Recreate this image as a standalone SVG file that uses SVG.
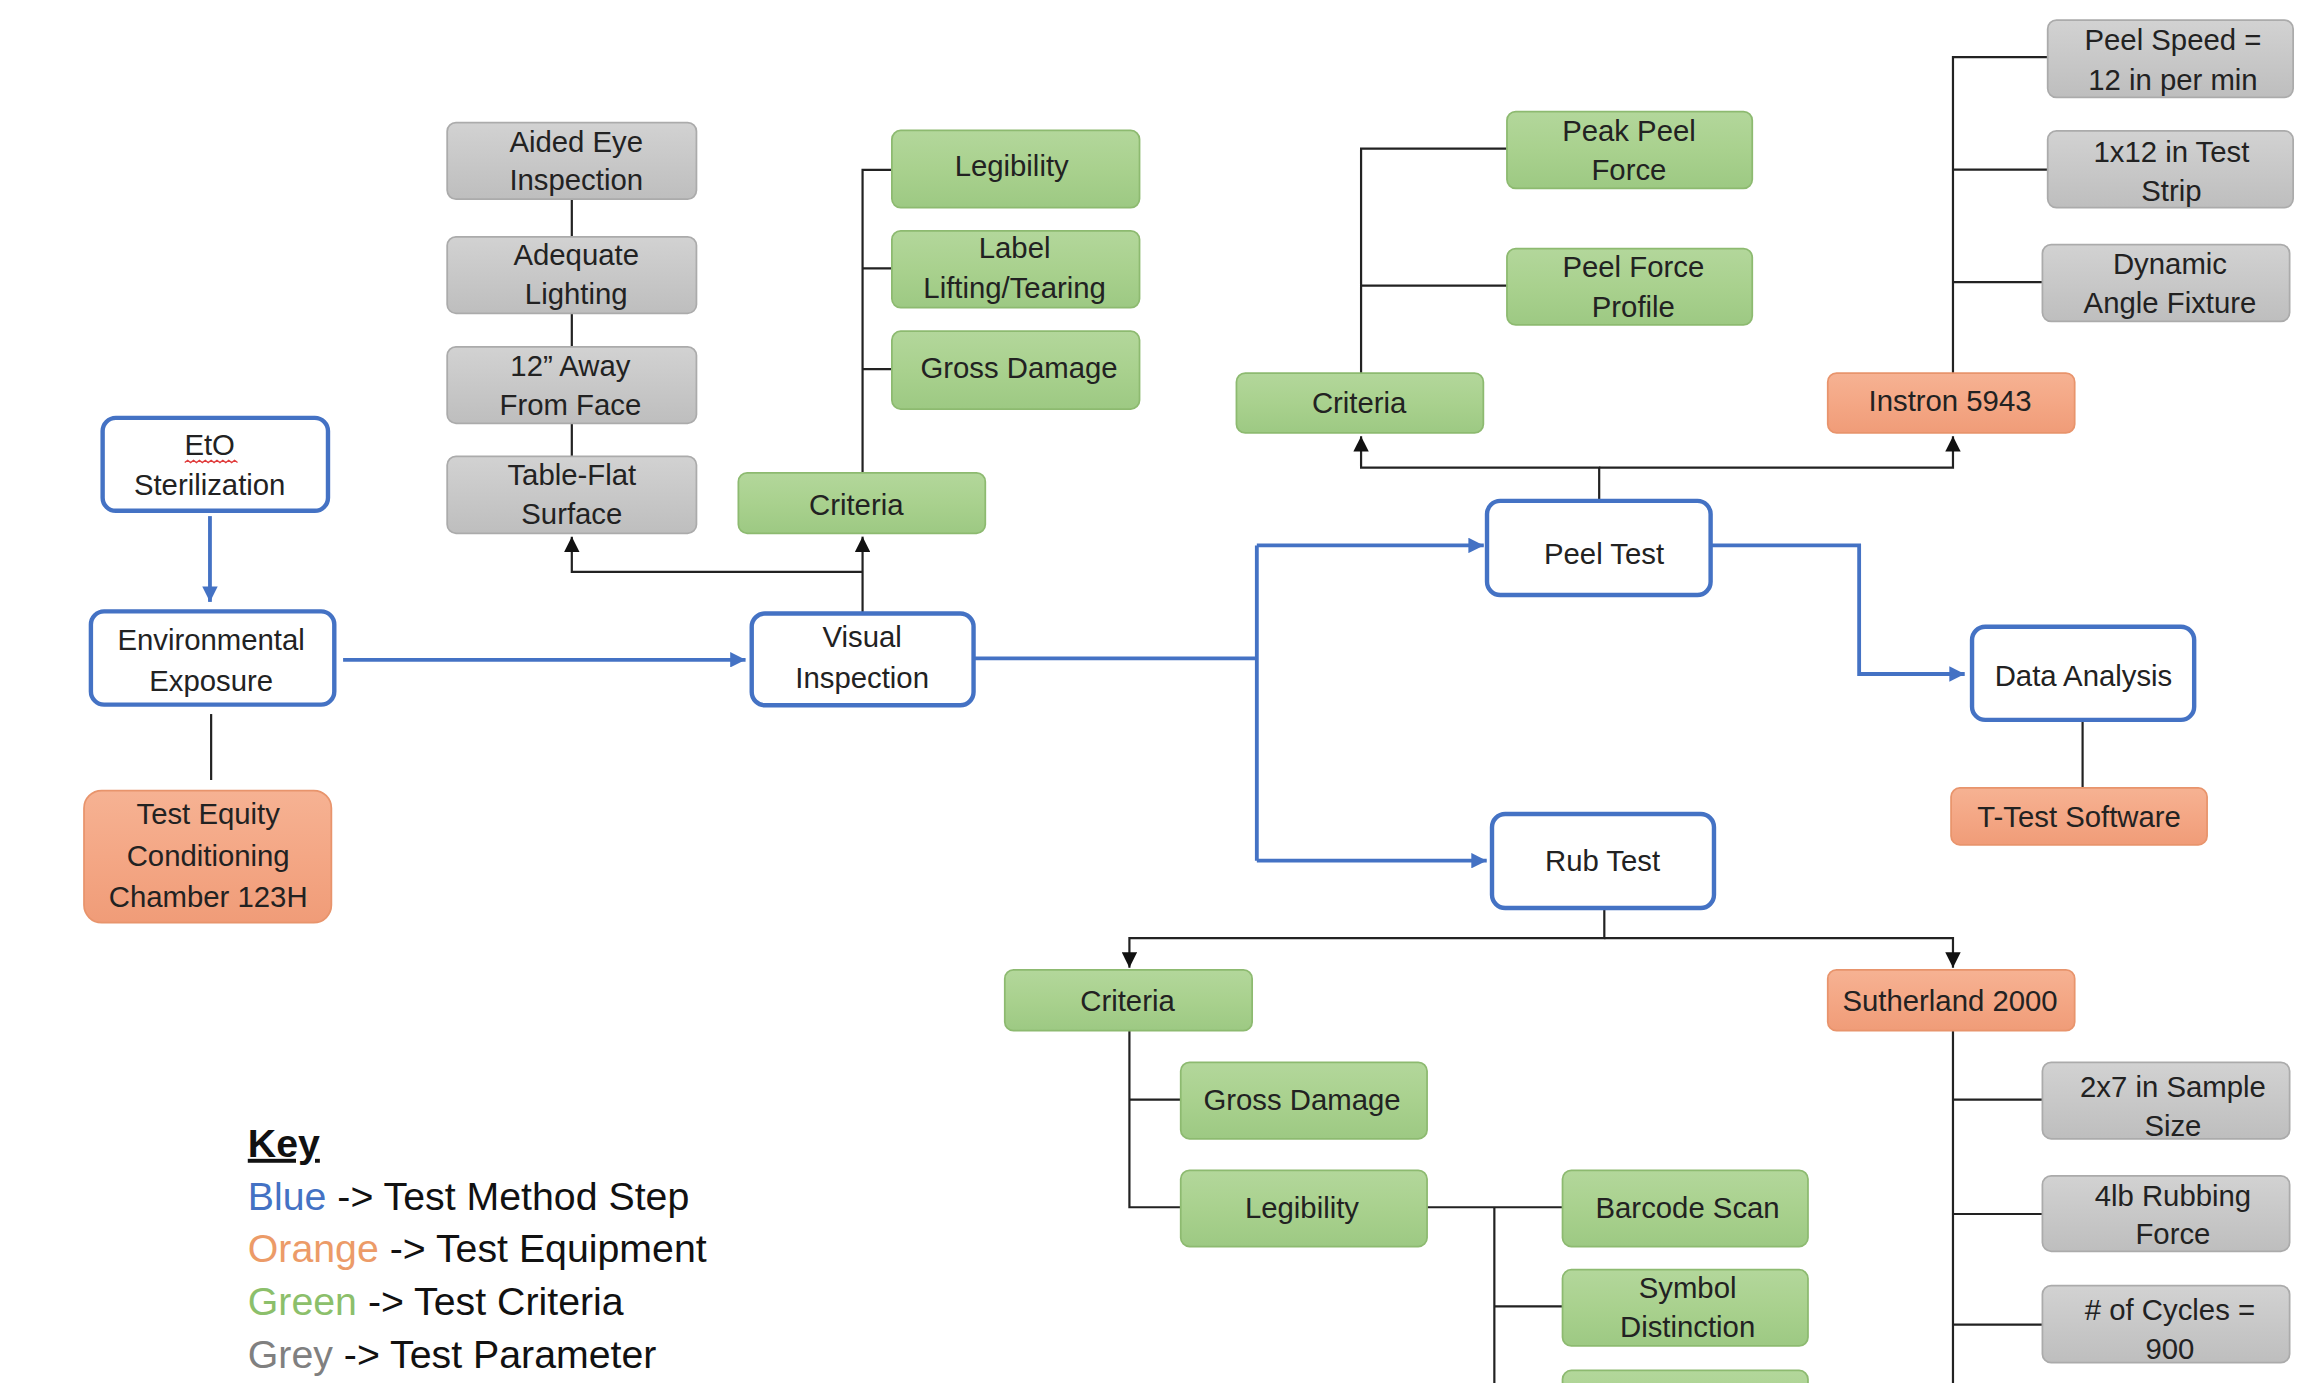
<svg xmlns="http://www.w3.org/2000/svg" width="2299" height="1383" viewBox="0 0 2299 1383">
<style>
.t{font-family:"Liberation Sans",Arial,sans-serif;font-size:20px;fill:#222;text-anchor:middle}
.blue{fill:#fff;stroke:#4472C4;stroke-width:3}
.green{fill:url(#gg);stroke:#8DBA70;stroke-width:1.2}
.grey{fill:url(#gr);stroke:#ABABAB;stroke-width:1.2}
.orange{fill:url(#go);stroke:#E8946C;stroke-width:1.2}
.cb{fill:none;stroke:#4472C4;stroke-width:2.6}
.ck{fill:none;stroke:#222;stroke-width:1.5}
.key{font-family:"Liberation Sans",Arial,sans-serif;font-size:26.8px;fill:#111}
</style>
<defs>
<linearGradient id="gg" x1="0" y1="0" x2="0" y2="1"><stop offset="0" stop-color="#B3D79B"/><stop offset="0.5" stop-color="#A9D18E"/><stop offset="1" stop-color="#9DC983"/></linearGradient>
<linearGradient id="gr" x1="0" y1="0" x2="0" y2="1"><stop offset="0" stop-color="#D2D2D2"/><stop offset="0.5" stop-color="#C8C8C8"/><stop offset="1" stop-color="#BEBEBE"/></linearGradient>
<linearGradient id="go" x1="0" y1="0" x2="0" y2="1"><stop offset="0" stop-color="#F6B293"/><stop offset="0.5" stop-color="#F4A785"/><stop offset="1" stop-color="#F09C78"/></linearGradient>
<marker id="ab" markerUnits="userSpaceOnUse" markerWidth="10.5" markerHeight="10.5" viewBox="0 0 10 10" refX="10" refY="5" orient="auto"><path d="M0,0 L10,5 L0,10 z" fill="#4472C4"/></marker>
<marker id="ak" markerUnits="userSpaceOnUse" markerWidth="10.5" markerHeight="10.5" viewBox="0 0 10 10" refX="10" refY="5" orient="auto"><path d="M0,0 L10,5 L0,10 z" fill="#111"/></marker>
</defs>
<rect width="2299" height="1383" fill="#fff"/>
<g transform="scale(1.4662)">
<g id="connectors">
<path class="cb" d="M143.2,352 V410.5" marker-end="url(#ab)"/>
<path class="cb" d="M234,450 H508.5" marker-end="url(#ab)"/>
<path class="cb" d="M664,449 H857.2 M857.2,372 V587"/>
<path class="cb" d="M857.2,372 H1012" marker-end="url(#ab)"/>
<path class="cb" d="M857.2,587 H1014" marker-end="url(#ab)"/>
<path class="cb" d="M1167,372 H1268 V459.7 H1340" marker-end="url(#ab)"/>
<path class="ck" d="M144,487 V532"/>
<path class="ck" d="M588.3,418.4 V366" marker-end="url(#ak)"/>
<path class="ck" d="M588.3,390 H390 V366" marker-end="url(#ak)"/>
<path class="ck" d="M390,135.8 V161.5 M390,213.7 V236.5 M390,288.7 V311.2"/>
<path class="ck" d="M588.3,322.5 V115.8 H608.3 M588.3,183.1 H608.3 M588.3,251.7 H608.3"/>
<path class="ck" d="M1090.7,341.6 V319 H928.3 V297.5" marker-end="url(#ak)"/>
<path class="ck" d="M1090.7,319 H1332 V297.5" marker-end="url(#ak)"/>
<path class="ck" d="M928.3,254.5 V101.4 H1027.8 M928.3,194.8 H1027.8"/>
<path class="ck" d="M1332,254.5 V39 H1396.6 M1332,115.7 H1396.6 M1332,192.4 H1393"/>
<path class="ck" d="M1420.4,491 V537.4"/>
<path class="ck" d="M1094.2,619.3 V639.8 H770.3 V660" marker-end="url(#ak)"/>
<path class="ck" d="M1094.2,639.8 H1332 V660" marker-end="url(#ak)"/>
<path class="ck" d="M770.3,703 V823.4 H805.3 M770.3,750 H805.3"/>
<path class="ck" d="M973.3,823.4 H1065.7 M1019.2,823.4 V945 M1019.2,891 H1065.7"/>
<path class="ck" d="M1332,703 V945 M1332,750 H1393 M1332,828 H1393 M1332,903.5 H1393"/>
</g>
<g id="eto"><rect class="blue" x="70" y="285" width="153.7" height="63.4" rx="9"/><text class="t" x="143" y="310.3">EtO</text><text class="t" x="143" y="337.7">Sterilization</text><path d="M126,315.5 l2,-1.6 l2,1.6 l2,-1.6 l2,1.6 l2,-1.6 l2,1.6 l2,-1.6 l2,1.6 l2,-1.6 l2,1.6 l2,-1.6 l2,1.6 l2,-1.6 l2,1.6 l2,-1.6 l2,1.6 l2,-1.6 l2,1.6" fill="none" stroke="#E03C3C" stroke-width="0.9"/></g>
<g id="env"><rect class="blue" x="62" y="417" width="166" height="63.6" rx="9"/><text class="t" x="144" y="443.2">Environmental</text><text class="t" x="144" y="471.5">Exposure</text></g>
<g id="visual"><rect class="blue" x="512.7" y="418.4" width="151.3" height="62.6" rx="9"/><text class="t" x="588" y="441">Visual</text><text class="t" x="588" y="469.5">Inspection</text></g>
<g id="peel"><rect class="blue" x="1014.2" y="341.6" width="152.5" height="64.2" rx="9"/><text class="t" x="1094" y="384.5">Peel Test</text></g>
<g id="rub"><rect class="blue" x="1017.6" y="555.2" width="151.4" height="64.1" rx="9"/><text class="t" x="1093" y="594">Rub Test</text></g>
<g id="data"><rect class="blue" x="1345" y="427.5" width="151.5" height="63.5" rx="9"/><text class="t" x="1421" y="468">Data Analysis</text></g>
<g id="testequity"><rect class="orange" x="57.3" y="539.2" width="168.7" height="90.1" rx="12"/><text class="t" x="142" y="562.3">Test Equity</text><text class="t" x="142" y="590.6">Conditioning</text><text class="t" x="142" y="618.6">Chamber 123H</text></g>
<g id="instron"><rect class="orange" x="1246.6" y="254.5" width="168.4" height="40.8" rx="6"/><text class="t" x="1330" y="280.4">Instron 5943</text></g>
<g id="ttest"><rect class="orange" x="1330.7" y="537.4" width="174.6" height="38.8" rx="6"/><text class="t" x="1418" y="564">T-Test Software</text></g>
<g id="sutherland"><rect class="orange" x="1246.6" y="661.5" width="168.4" height="41.5" rx="6"/><text class="t" x="1330" y="689.3">Sutherland 2000</text></g>
<g id="legib1"><rect class="green" x="608.3" y="89" width="168.9" height="52.6" rx="6"/><text class="t" x="690" y="120">Legibility</text></g>
<g id="label"><rect class="green" x="608.3" y="157.4" width="168.9" height="52.4" rx="6"/><text class="t" x="692" y="176">Label</text><text class="t" x="692" y="203.3">Lifting/Tearing</text></g>
<g id="gross1"><rect class="green" x="608.3" y="225.9" width="168.9" height="53.1" rx="6"/><text class="t" x="695" y="257.7">Gross Damage</text></g>
<g id="crit1"><rect class="green" x="503.6" y="322.5" width="168.4" height="41.2" rx="6"/><text class="t" x="584" y="351">Criteria</text></g>
<g id="peak"><rect class="green" x="1027.8" y="76.1" width="167.3" height="52.4" rx="6"/><text class="t" x="1111" y="95.9">Peak Peel</text><text class="t" x="1111" y="122.7">Force</text></g>
<g id="profile"><rect class="green" x="1027.8" y="169.6" width="167.3" height="52" rx="6"/><text class="t" x="1114" y="189">Peel Force</text><text class="t" x="1114" y="216">Profile</text></g>
<g id="crit2"><rect class="green" x="843.3" y="254.5" width="168.4" height="40.8" rx="6"/><text class="t" x="927" y="281.9">Criteria</text></g>
<g id="crit3"><rect class="green" x="685.3" y="661.5" width="168.7" height="41.5" rx="6"/><text class="t" x="769" y="689.3">Criteria</text></g>
<g id="gross2"><rect class="green" x="805.3" y="724.5" width="168" height="52.2" rx="6"/><text class="t" x="888" y="757">Gross Damage</text></g>
<g id="legib2"><rect class="green" x="805.3" y="798.2" width="168" height="52" rx="6"/><text class="t" x="888" y="830.4">Legibility</text></g>
<g id="barcode"><rect class="green" x="1065.7" y="798.2" width="167.4" height="52" rx="6"/><text class="t" x="1151" y="831">Barcode Scan</text></g>
<g id="symbol"><rect class="green" x="1065.7" y="866" width="167.4" height="52" rx="6"/><text class="t" x="1151" y="885.3">Symbol</text><text class="t" x="1151" y="912">Distinction</text></g>
<g id="partial"><rect class="green" x="1065.7" y="934.7" width="167.4" height="52" rx="6"/></g>
<g id="aided"><rect class="grey" x="305" y="83.6" width="170" height="52.2" rx="6"/><text class="t" x="393" y="103.5">Aided Eye</text><text class="t" x="393" y="129.9">Inspection</text></g>
<g id="adequate"><rect class="grey" x="305" y="161.5" width="170" height="52.2" rx="6"/><text class="t" x="393" y="180.8">Adequate</text><text class="t" x="393" y="207">Lighting</text></g>
<g id="away"><rect class="grey" x="305" y="236.5" width="170" height="52.2" rx="6"/><text class="t" x="389" y="256.4">12” Away</text><text class="t" x="389" y="282.8">From Face</text></g>
<g id="table"><rect class="grey" x="305" y="311.2" width="170" height="52.5" rx="6"/><text class="t" x="390" y="331">Table-Flat</text><text class="t" x="390" y="357.5">Surface</text></g>
<g id="speed"><rect class="grey" x="1396.6" y="13.7" width="167.4" height="52.7" rx="6"/><text class="t" x="1482" y="34.4">Peel Speed =</text><text class="t" x="1482" y="61.2">12 in per min</text></g>
<g id="strip"><rect class="grey" x="1396.6" y="89.2" width="167.4" height="52.4" rx="6"/><text class="t" x="1481" y="110.5">1x12 in Test</text><text class="t" x="1481" y="137">Strip</text></g>
<g id="dynamic"><rect class="grey" x="1393" y="166.8" width="168.6" height="52.4" rx="6"/><text class="t" x="1480" y="186.6">Dynamic</text><text class="t" x="1480" y="213.4">Angle Fixture</text></g>
<g id="sample"><rect class="grey" x="1393" y="724.5" width="168.6" height="52.2" rx="6"/><text class="t" x="1482" y="748">2x7 in Sample</text><text class="t" x="1482" y="774.9">Size</text></g>
<g id="rubbing"><rect class="grey" x="1393" y="802" width="168.6" height="51.4" rx="6"/><text class="t" x="1482" y="822.3">4lb Rubbing</text><text class="t" x="1482" y="848.2">Force</text></g>
<g id="cycles"><rect class="grey" x="1393" y="876.8" width="168.6" height="52.6" rx="6"/><text class="t" x="1480" y="900.2"># of Cycles =</text><text class="t" x="1480" y="927">900</text></g>
<g id="key">
<text class="key" x="169" y="789" font-size="23" font-weight="bold" text-decoration="underline">Key</text>
<text class="key" x="169" y="825"><tspan fill="#4472C4">Blue</tspan> -&gt; Test Method Step</text>
<text class="key" x="169" y="861"><tspan fill="#EC9B68">Orange</tspan> -&gt; Test Equipment</text>
<text class="key" x="169" y="897"><tspan fill="#8CBF6B">Green</tspan> -&gt; Test Criteria</text>
<text class="key" x="169" y="933"><tspan fill="#808080">Grey</tspan> -&gt; Test Parameter</text>
</g>
</g>
</svg>
